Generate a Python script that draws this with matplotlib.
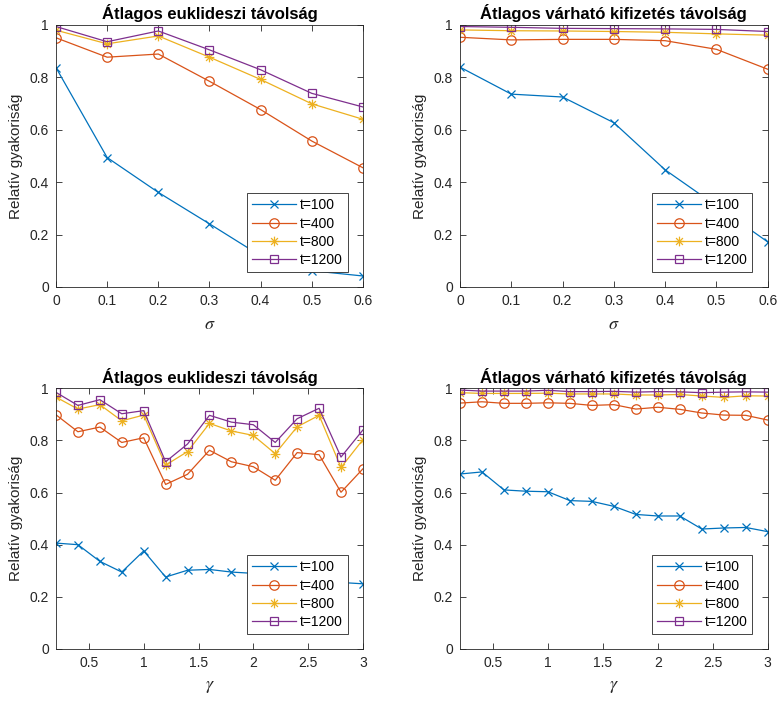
import matplotlib
matplotlib.use("Agg")
import matplotlib.pyplot as plt
from matplotlib.ticker import FuncFormatter
from matplotlib.path import Path

plt.rcParams['font.family'] = ['Liberation Sans', 'DejaVu Sans']
plt.rcParams['mathtext.fontset'] = 'stix'

sigma = [0, 0.1, 0.2, 0.3, 0.4, 0.5, 0.6]
gamma = [0.2, 0.4, 0.6, 0.8, 1.0, 1.2, 1.4, 1.6, 1.8, 2.0, 2.2, 2.4, 2.6, 2.8, 3.0]
labels = ['t=100', 't=400', 't=800', 't=1200']

# Top-left: Átlagos euklideszi távolság vs sigma
tl_t100 = [0.837, 0.494, 0.361, 0.241, 0.119, 0.062, 0.042]
tl_t400 = [0.951, 0.877, 0.889, 0.785, 0.677, 0.557, 0.455]
tl_t800 = [0.980, 0.928, 0.958, 0.877, 0.792, 0.699, 0.640]
tl_t1200 = [0.994, 0.936, 0.977, 0.905, 0.829, 0.739, 0.687]

# Top-right: Átlagos várható kifizetés távolság vs sigma
tr_t100 = [0.839, 0.736, 0.725, 0.627, 0.447, 0.31, 0.172]
tr_t400 = [0.953, 0.943, 0.945, 0.945, 0.940, 0.907, 0.831]
tr_t800 = [0.981, 0.978, 0.977, 0.975, 0.972, 0.966, 0.961]
tr_t1200 = [0.994, 0.991, 0.987, 0.986, 0.985, 0.983, 0.975]

# Bottom-left: Átlagos euklideszi távolság vs gamma
bl_t100 = [0.406, 0.400, 0.336, 0.295, 0.376, 0.276, 0.302, 0.305, 0.295,
           0.29, 0.28, 0.27, 0.265, 0.255, 0.250]
bl_t400 = [0.898, 0.833, 0.851, 0.792, 0.810, 0.631, 0.670, 0.762, 0.718,
           0.699, 0.647, 0.753, 0.745, 0.601, 0.691]
bl_t800 = [0.966, 0.920, 0.937, 0.875, 0.897, 0.705, 0.757, 0.865, 0.836,
           0.819, 0.749, 0.852, 0.896, 0.696, 0.803]
bl_t1200 = [0.984, 0.934, 0.956, 0.902, 0.914, 0.718, 0.786, 0.896, 0.870,
            0.860, 0.792, 0.883, 0.923, 0.736, 0.840]

# Bottom-right: Átlagos várható kifizetés távolság vs gamma
br_t100 = [0.671, 0.679, 0.610, 0.605, 0.603, 0.569, 0.566, 0.547, 0.516,
           0.510, 0.510, 0.460, 0.464, 0.466, 0.450]
br_t400 = [0.943, 0.948, 0.942, 0.942, 0.944, 0.942, 0.934, 0.937, 0.920,
           0.927, 0.919, 0.905, 0.897, 0.896, 0.878]
br_t800 = [0.983, 0.980, 0.980, 0.980, 0.981, 0.978, 0.978, 0.978, 0.974,
           0.974, 0.976, 0.970, 0.965, 0.971, 0.970]
br_t1200 = [0.993, 0.989, 0.989, 0.989, 0.992, 0.987, 0.987, 0.988, 0.985,
            0.987, 0.986, 0.983, 0.985, 0.986, 0.985]

title_euk = 'Átlagos euklideszi távolság'
title_var = 'Átlagos várható kifizetés távolság'
ylabel = 'Relatív gyakoriság'

# MATLAB-style asterisk marker (plus + cross)
d = 0.7071
asterisk = Path([(-1, 0), (1, 0), (0, -1), (0, 1), (-d, -d), (d, d), (-d, d), (d, -d)],
                [Path.MOVETO, Path.LINETO] * 4)

colors = ['#0072BD', '#D95319', '#EDB120', '#7E2F8E']
markers = ['x', 'o', asterisk, 's']
msizes = [6, 6.8, 7, 5.6]
axcol = '#262626'

fig = plt.figure(figsize=(7.81, 7.01), dpi=100)

panels = [
    ([0.0717, 0.5906, 0.393, 0.3738], sigma, [tl_t100, tl_t400, tl_t800, tl_t1200], title_euk, r'$\sigma$'),
    ([0.589, 0.5906, 0.394, 0.3738], sigma, [tr_t100, tr_t400, tr_t800, tr_t1200], title_var, r'$\sigma$'),
    ([0.0717, 0.0742, 0.393, 0.372], gamma, [bl_t100, bl_t400, bl_t800, bl_t1200], title_euk, r'$\gamma$'),
    ([0.589, 0.0742, 0.394, 0.372], gamma, [br_t100, br_t400, br_t800, br_t1200], title_var, r'$\gamma$'),
]

def fmt(v, pos):
    return ('%g' % round(v, 6))

for rect, xs, series, title, xl in panels:
    ax = fig.add_axes(rect)
    for ys, c, m, ms, lab in zip(series, colors, markers, msizes, labels):
        ax.plot(xs, ys, color=c, marker=m, markersize=ms, markerfacecolor='none',
                markeredgecolor=c, linewidth=0.9, markeredgewidth=0.9, label=lab)
    ax.set_xlim(xs[0], xs[-1])
    ax.set_ylim(0, 1)
    ax.set_yticks([0, 0.2, 0.4, 0.6, 0.8, 1.0])
    if xs is sigma:
        ax.set_xticks(sigma)
    else:
        ax.set_xticks([0.5, 1, 1.5, 2, 2.5, 3])
    ax.xaxis.set_major_formatter(FuncFormatter(fmt))
    ax.yaxis.set_major_formatter(FuncFormatter(fmt))
    ax.tick_params(direction='in', top=True, right=True, length=4, width=0.6,
                   colors=axcol, labelsize=10, labelcolor=axcol, pad=5)
    for s in ax.spines.values():
        s.set_color(axcol)
        s.set_linewidth(0.6)
    ax.set_title(title, fontsize=12, fontweight='bold', color='black', pad=4)
    ax.set_xlabel(xl, fontsize=13, color=axcol, labelpad=6)
    ax.set_ylabel(ylabel, fontsize=11, color=axcol, labelpad=5)
    leg = ax.legend(loc='lower right', fontsize=10, handlelength=3.2, handletextpad=0.25,
                    labelspacing=0.3, borderpad=0.35, borderaxespad=1.1,
                    fancybox=False, framealpha=1, edgecolor=axcol)
    leg.get_frame().set_linewidth(0.6)

fig.savefig('out.png', dpi=100)
